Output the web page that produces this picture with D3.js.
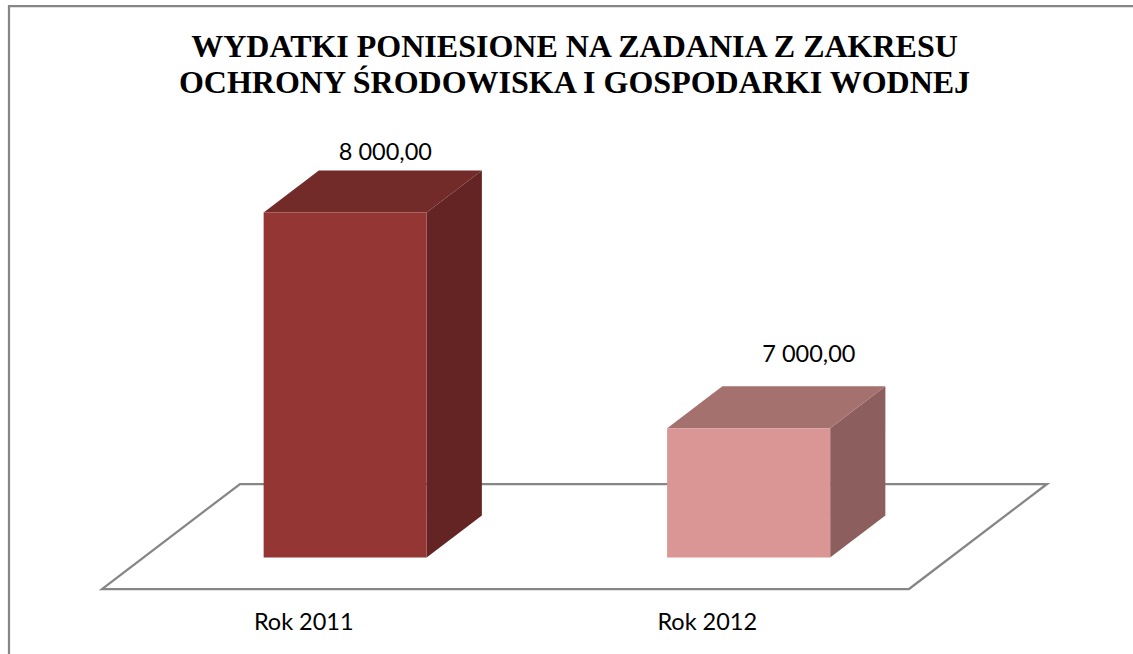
<!DOCTYPE html>
<html>
<head>
  <meta charset="utf-8">
  <script src="https://d3js.org/d3.v7.min.js"></script>
  <style>
    html, body { margin: 0; padding: 0; background: #fff; }
    svg { display: block; }
    .axis text, .value-label { font-family: Lato, sans-serif; font-size: 23.5px; fill: #000; }
    .chart-title { font-family: "Liberation Serif", serif; font-size: 32px; font-weight: bold; fill: #000; }
  </style>
</head>
<body>
  <script>
    // chart values
    var categories = ['Rok 2011', 'Rok 2012'];
    var values = [8000, 7000];
    var valueLabels = ['8 000,00', '7 000,00'];
    var titleLines = ['WYDATKI PONIESIONE NA ZADANIA Z ZAKRESU', 'OCHRONY ŚRODOWISKA I GOSPODARKI WODNEJ'];
    var frontColors = ['#943634', '#d99694'];
    var topColors = ['#722b29', '#a5716f'];
    var sideColors = ['#632423', '#8c5f5e'];

    var outerWidth = 1133,
      outerHeight = 654;

    // the labels were placed by hand in the original, so they need a nudge per bar
    var labelNudge = [{x: -15, y: -11}, {x: 5, y: -24}];

    var svg = d3.select('body').append('svg')
      .attr('width', outerWidth)
      .attr('height', outerHeight);

    var line = d3.line();

    // chart frame: the picture is cropped, only top and left sides are in view
    svg.append('path')
      .attr('d', line([[9, outerHeight], [9, 6], [outerWidth, 6]]))
      .attr('fill', 'none')
      .attr('stroke', '#868686')
      .attr('stroke-width', 2.25);

    svg.selectAll('.chart-title')
      .data(titleLines)
      .join('text')
      .attr('class', 'chart-title')
      .attr('x', 574.5)
      .attr('y', function(d, i) { return 56.5 + i * 36.5; })
      .attr('text-anchor', 'middle')
      .text(function(d) { return d; });

    // scales: x along the floor front, y is the truncated value axis, depth goes into the picture
    var xScale = d3.scaleBand()
      .domain(categories)
      .range([102, 909])
      .paddingInner(0.596)
      .paddingOuter(0.298);

    var yScale = d3.scaleLinear()
      .domain([6400, 8000])
      .range([589, 244]);

    var depthX = d3.scaleLinear().domain([0, 1]).range([0, 138]);
    var depthY = d3.scaleLinear().domain([0, 1]).range([0, -105]);

    // x in floor coords, value on y axis, depth 0..1
    function project(x, value, depth) {
      return [x + depthX(depth), yScale(value) + depthY(depth)];
    }

    // floor
    var xMin = xScale.range()[0], xMax = xScale.range()[1], yMin = yScale.domain()[0];
    svg.append('path')
      .attr('d', line([
        project(xMin, yMin, 0),
        project(xMax, yMin, 0),
        project(xMax, yMin, 1),
        project(xMin, yMin, 1)
      ]) + 'Z')
      .attr('fill', '#fff')
      .attr('stroke', '#868686')
      .attr('stroke-width', 2.25);

    // bars are drawn as 3 faces, front plane 0.3 and back plane 0.7 into the floor
    var front = 0.3, back = 0.7;

    var bars = svg.selectAll('.bar')
      .data(categories)
      .join('g')
      .attr('class', 'bar');

    bars.append('path')
      .attr('fill', function(d, i) { return sideColors[i]; })
      .attr('d', function(d, i) {
        var x1 = xScale(d) + xScale.bandwidth();
        return line([
          project(x1, yMin, front),
          project(x1, yMin, back),
          project(x1, values[i], back),
          project(x1, values[i], front)
        ]) + 'Z';
      });

    bars.append('path')
      .attr('fill', function(d, i) { return topColors[i]; })
      .attr('d', function(d, i) {
        var x0 = xScale(d), x1 = x0 + xScale.bandwidth();
        return line([
          project(x0, values[i], front),
          project(x1, values[i], front),
          project(x1, values[i], back),
          project(x0, values[i], back)
        ]) + 'Z';
      });

    bars.append('path')
      .attr('fill', function(d, i) { return frontColors[i]; })
      .attr('d', function(d, i) {
        var x0 = xScale(d), x1 = x0 + xScale.bandwidth();
        return line([
          project(x0, yMin, front),
          project(x1, yMin, front),
          project(x1, values[i], front),
          project(x0, values[i], front)
        ]) + 'Z';
      });

    // value labels sit above the back edge of the top face
    bars.append('text')
      .attr('class', 'value-label')
      .attr('text-anchor', 'middle')
      .attr('x', function(d, i) {
        return project(xScale(d) + xScale.bandwidth() / 2, yMin, back)[0] + labelNudge[i].x;
      })
      .attr('y', function(d, i) {
        return project(0, values[i], back)[1] + labelNudge[i].y;
      })
      .text(function(d, i) { return valueLabels[i]; });

    // category axis under the floor
    svg.append('g')
      .attr('class', 'axis')
      .attr('transform', 'translate(0,' + yScale(yMin) + ')')
      .call(d3.axisBottom(xScale).tickSize(0).tickPadding(24))
      .call(function(g) { g.select('.domain').remove(); });
  </script>
</body>
</html>
